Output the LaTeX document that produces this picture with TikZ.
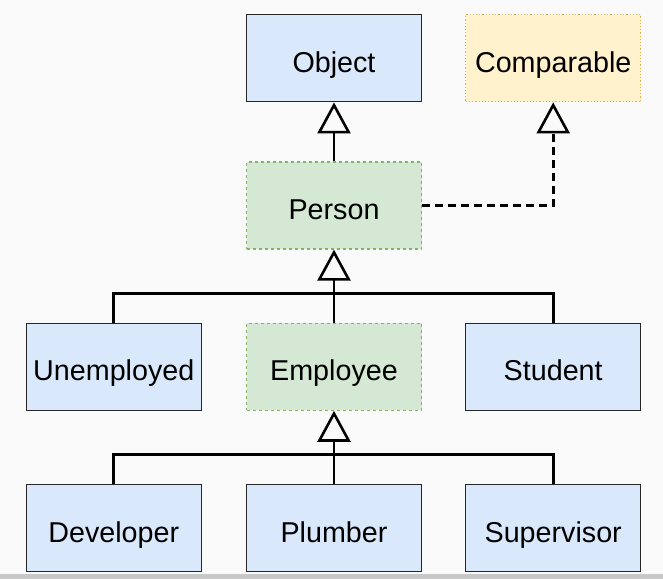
\documentclass[tikz,border=0pt]{standalone}
\usepackage{fontspec}
\setmainfont{Liberation Sans}
\usetikzlibrary{positioning, arrows.meta}
\definecolor{classblue}{HTML}{DAE8FC}
\definecolor{ifacegreen}{HTML}{D5E8D4}
\definecolor{ifacegreenline}{HTML}{82B366}
\definecolor{ifaceyellow}{HTML}{FFF2CC}
\definecolor{ifaceyellowline}{HTML}{D6B656}
\definecolor{canvas}{HTML}{FAFAFA}
\definecolor{footbar}{HTML}{C8C8C8}
\tikzset{
    classnode/.style={
        rectangle,
        draw=black!85, % 边框深灰
        fill=classblue, % 浅蓝填充
        line width=1.2pt,
        minimum width=175pt,
        minimum height=87pt,
        inner sep=0,
        text height=31.6pt,
        text depth=3.4pt,
        font=\fontsize{28.7pt}{34pt}\selectfont
    },
    abstractnode/.style={
        classnode,
        draw=ifacegreenline, % 虚线绿色边框
        fill=ifacegreen,
        dashed
    },
    ifacenode/.style={
        classnode,
        draw=ifaceyellowline, % 点线黄色边框
        fill=ifaceyellow,
        dotted
    },
    extendsline/.style={
        line width=2.8pt,
        -{Triangle[open, length=31pt, width=33pt, line width=2.6pt]}
    },
    implline/.style={
        extendsline,
        dash pattern=on 8pt off 5pt
    },
    barline/.style={
        line width=2.8pt
    }
}
\begin{document}
\begin{tikzpicture}[x=1pt, y=1pt]
    % 背景
    \fill[canvas] (0,0) rectangle (663,579);
    \fill[footbar] (0,0) rectangle (663,5);
    \useasboundingbox (0,0) rectangle (663,579);
    % 类节点
    \node[abstractnode] (Person) at (334,373.5) {Person};
    \node[classnode, above=59pt of Person] (Object) {Object};
    \node[ifacenode, right=43pt of Object] (Comparable) {Comparable};
    \node[abstractnode, below=73pt of Person] (Employee) {Employee};
    \node[classnode, left=44pt of Employee] (Unemployed) {Unemployed};
    \node[classnode, right=43pt of Employee] (Student) {Student};
    \node[classnode, below=73pt of Employee] (Plumber) {Plumber};
    \node[classnode, left=44pt of Plumber] (Developer) {Developer};
    \node[classnode, right=43pt of Plumber] (Supervisor) {Supervisor};
    % 继承关系
    \draw[extendsline] (Person.north) -- (Object.south);
    \draw[implline] (Person.east) -| (Comparable.south);
    \coordinate (barA) at ([yshift=29pt]Employee.north);
    \coordinate (barB) at ([yshift=29pt]Plumber.north);
    \draw[barline] (Unemployed.north) |- (barA) -| (Student.north);
    \draw[extendsline] (Employee.north) -- (Person.south);
    \draw[barline] (Developer.north) |- (barB) -| (Supervisor.north);
    \draw[extendsline] (Plumber.north) -- (Employee.south);
\end{tikzpicture}
\end{document}
